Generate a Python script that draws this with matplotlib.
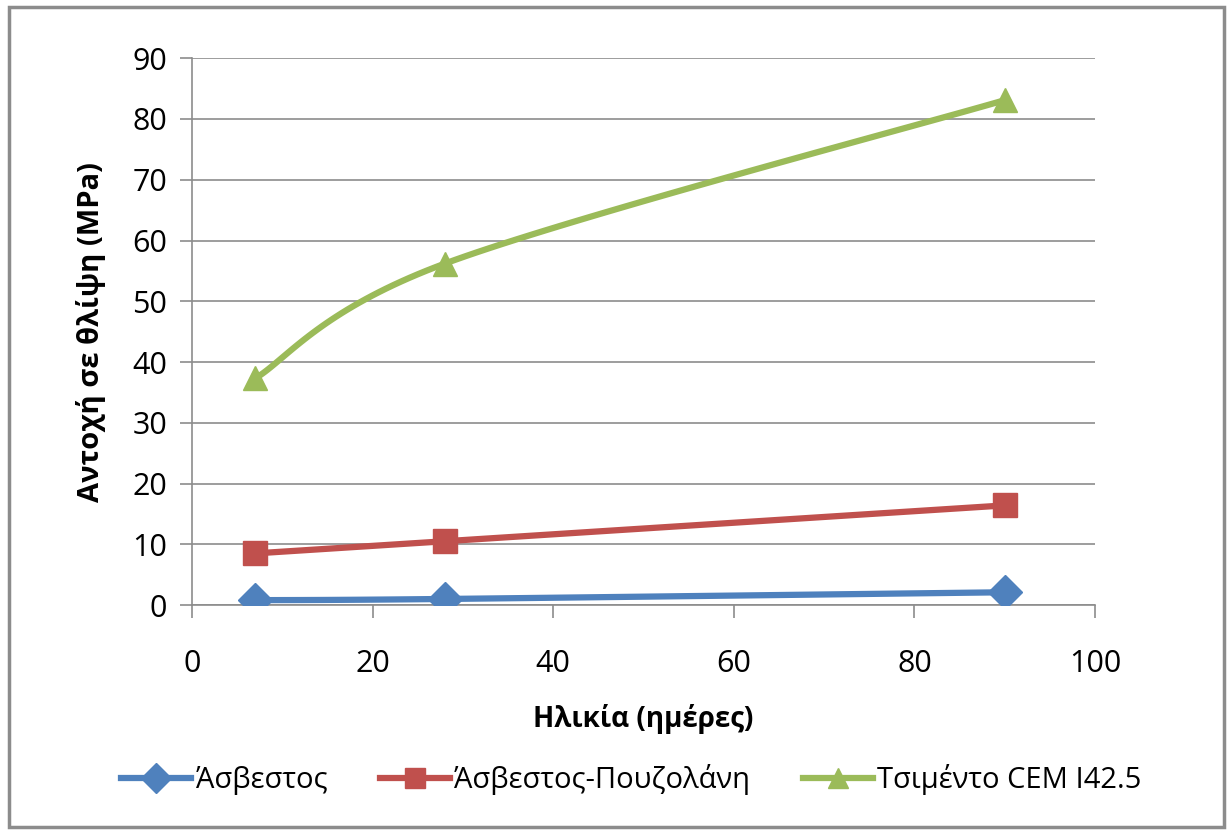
import numpy as np
import matplotlib.pyplot as plt
from matplotlib.patches import Rectangle

plt.rcParams['font.family'] = ['Open Sans', 'DejaVu Sans']

days = [7, 28, 90]
asvestos = [0.8, 1.0, 2.1]
asvestos_pouz = [8.5, 10.5, 16.4]
tsimento = [37.3, 56.2, 83.1]
labels = ['Άσβεστος', 'Άσβεστος-Πουζολάνη', 'Τσιμέντο CEM I42.5']
colors = ['#4F81BD', '#C0504D', '#9BBB59']
markers = ['D', 's', '^']


def smooth(x, y, n=40):
    # Excel-like smoothed line: cubic bezier with catmull-rom control points
    x = np.asarray(x, float)
    y = np.asarray(y, float)
    px = np.concatenate([[x[0]], x, [x[-1]]])
    py = np.concatenate([[y[0]], y, [y[-1]]])
    xs, ys = [], []
    t = np.linspace(0, 1, n)
    for i in range(1, len(px) - 2):
        p0 = np.array([px[i], py[i]])
        p3 = np.array([px[i + 1], py[i + 1]])
        c1 = p0 + (np.array([px[i + 1], py[i + 1]]) - np.array([px[i - 1], py[i - 1]])) / 6
        c2 = p3 - (np.array([px[i + 2], py[i + 2]]) - np.array([px[i], py[i]])) / 6
        b = ((1 - t) ** 3)[:, None] * p0 + (3 * (1 - t) ** 2 * t)[:, None] * c1 \
            + (3 * (1 - t) * t ** 2)[:, None] * c2 + (t ** 3)[:, None] * p3
        xs.extend(b[:, 0])
        ys.extend(b[:, 1])
    return xs, ys


fig = plt.figure(figsize=(12.31, 8.32), dpi=100)
ax = fig.add_axes([0.156, 0.2728, 0.7335, 0.6572])

handles = []
for vals, lab, c, m in zip([asvestos, asvestos_pouz, tsimento], labels, colors, markers):
    sx, sy = smooth(days, vals)
    ax.plot(sx, sy, color=c, lw=4.5, solid_capstyle='round', zorder=3)
    ax.plot(days, vals, linestyle='none', marker=m, color=c, markersize=17, zorder=4)
    h, = ax.plot([], [], color=c, lw=4.5, marker=m, markersize=15, label=lab)
    handles.append(h)

ax.set_xlim(0, 100)
ax.set_ylim(0, 90)
ax.set_xticks(np.arange(0, 101, 20))
ax.set_yticks(np.arange(0, 91, 10))
ax.grid(axis='y', color='#8c8c8c', lw=1.2)
ax.set_axisbelow(True)
for s in ['top', 'right']:
    ax.spines[s].set_visible(False)
for s in ['left', 'bottom']:
    ax.spines[s].set_color('#8c8c8c')
    ax.spines[s].set_linewidth(1.2)
ax.tick_params(direction='out', length=9, width=1.2, color='#8c8c8c', labelsize=22)
ax.tick_params(axis='x', pad=23)
ax.tick_params(axis='y', pad=9)

ax.set_xlabel('Ηλικία (ημέρες)', fontsize=20, fontweight='bold', labelpad=18)
ax.set_ylabel('Αντοχή σε θλίψη (MPa)', fontsize=21, fontweight='bold', labelpad=19)

fig.legend(handles=handles, loc='center', bbox_to_anchor=(0.513, 0.063), ncol=3,
           frameon=False, fontsize=21, handlelength=2.4, columnspacing=1.8,
           handletextpad=0.15)

fig.patches.append(Rectangle((0.007, 0.006), 0.987, 0.985, transform=fig.transFigure,
                             fill=False, edgecolor='#8c8c8c', lw=2.5))

fig.savefig('out.png', dpi=100)
